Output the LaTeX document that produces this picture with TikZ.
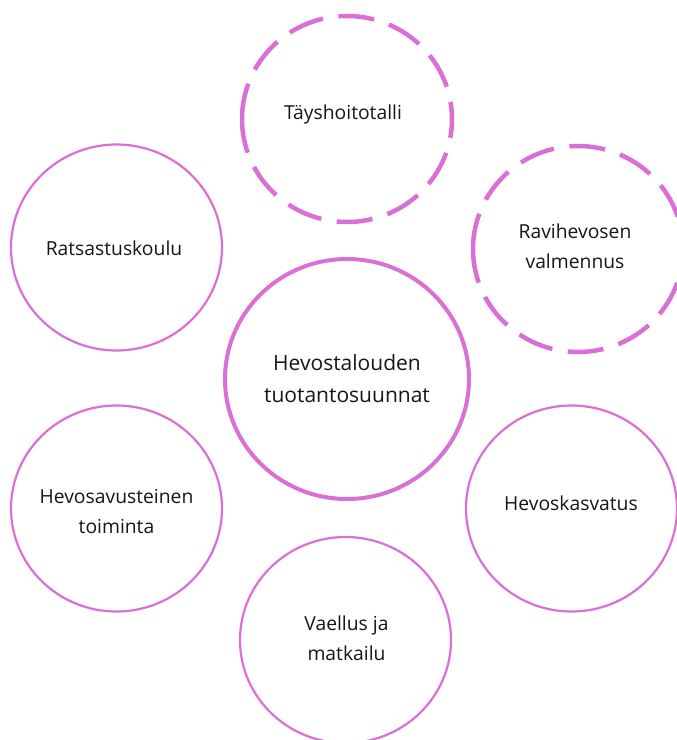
\documentclass[tikz,border=0pt]{standalone}
\usepackage{fontspec}
\setmainfont{Open Sans}
\usetikzlibrary{shapes.geometric}
\definecolor{orchidline}{RGB}{218,112,214}
\definecolor{txt}{RGB}{22,22,22}
\begin{document}
\begin{tikzpicture}[x=1pt,y=-1pt,
  ring/.style={ellipse, draw=orchidline, line width=2.2pt, minimum width=211pt, minimum height=206pt, inner sep=0pt, outer sep=0pt},
  bigring/.style={ellipse, draw=orchidline, line width=4pt, minimum width=244pt, minimum height=240pt, inner sep=0pt, outer sep=0pt},
  dashring/.style={ellipse, draw=none, minimum width=210pt, minimum height=206pt, inner sep=0pt, outer sep=0pt},
  dashline/.style={draw=orchidline, line width=4.5pt, dash pattern=on 36pt off 15.6pt},
  lbl/.style={anchor=base, text=txt, inner sep=0pt, font=\fontsize{19.3}{30}\selectfont},
  biglbl/.style={anchor=base, text=txt, inner sep=0pt, font=\fontsize{21}{32}\selectfont},
]
\useasboundingbox (0,0) rectangle (677,740);
\fill[white] (0,0) rectangle (677,740);

% circles
\node[bigring] (hub) at (347,379) {};
\node[dashring] (tay) at (347,119) {};
\node[ring] (rat) at (116.5,247.5) {};
\node[dashring] (rav) at (578,249) {};
\node[ring] (hav) at (116.5,508.5) {};
\node[ring] (kas) at (571.5,508.5) {};
\node[ring] (vae) at (345.5,640) {};

\draw[dashline] (tay.center) ++(-105,0) arc[start angle=180, end angle=540, x radius=105, y radius=103];
\draw[dashline] (rav.center) ++(-105,0) arc[start angle=180, end angle=540, x radius=105, y radius=103];

% labels
\node[biglbl] (hubt) at (347,370) {\begin{tabular}[t]{@{}c@{}}Hevostalouden\\tuotantosuunnat\end{tabular}};
\node[lbl] (tayt) at (343,119) {Täyshoitotalli};
\node[lbl] (ratt) at (114,255) {Ratsastuskoulu};
\node[lbl] (ravt) at (575,238) {\begin{tabular}[t]{@{}c@{}}Ravihevosen\\valmennus\end{tabular}};
\node[lbl] (havt) at (116.5,503) {\begin{tabular}[t]{@{}c@{}}Hevosavusteinen\\toiminta\end{tabular}};
\node[lbl] (kast) at (571,510) {Hevoskasvatus};
\node[lbl] (vaet) at (346.5,630) {\begin{tabular}[t]{@{}c@{}}Vaellus ja\\matkailu\end{tabular}};
\end{tikzpicture}
\end{document}
